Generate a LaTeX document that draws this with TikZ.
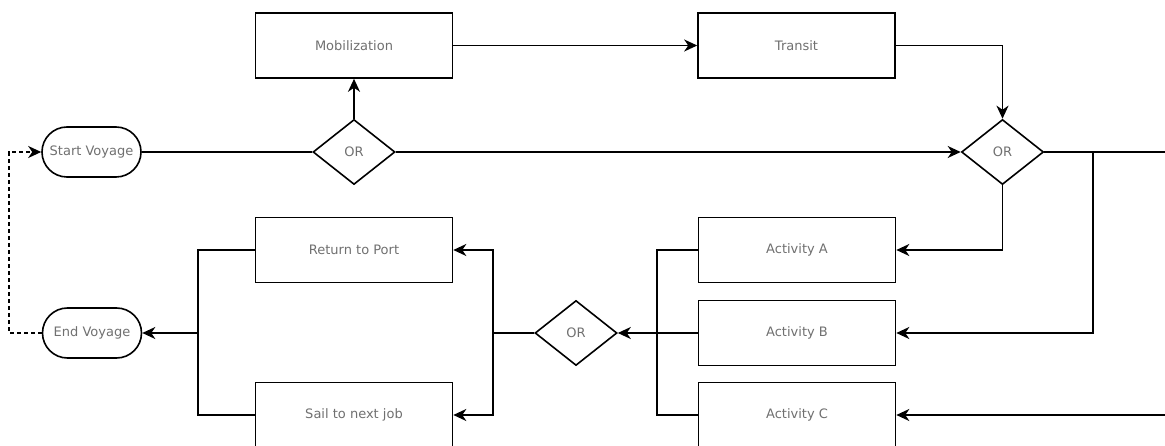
\documentclass[tikz,border=0pt]{standalone}
\usepackage{fontspec}
\setmainfont{DejaVu Sans}
\usetikzlibrary{shapes.geometric,arrows.meta}
\definecolor{labelgray}{HTML}{707070}
\begin{document}
\begin{tikzpicture}[x=1pt,y=-1pt,
  base/.style={draw=black, line width=1.6pt, fill=white, inner sep=0pt,
    text=labelgray, font=\fontsize{13}{15}\selectfont},
  stepbox/.style={base, rectangle, minimum width=197pt, minimum height=65pt},
  gate/.style={base, diamond, minimum width=82pt, minimum height=65pt},
  terminal/.style={base, rectangle, rounded corners=25pt, minimum width=99pt, minimum height=50pt},
  link/.style={line width=1.6pt, draw=black},
  arr/.style={link, -{Stealth[length=13pt,width=12pt,inset=4pt]}}]
\useasboundingbox (0,0) rectangle (1165,446);
\clip (0,0) rectangle (1165,446);

% terminals
\node[terminal] (sv) at (91.5,152) {Start Voyage};
\node[terminal] (ev) at (92,333) {End Voyage};

% top row
\node[stepbox] (mob) at (354,45.5) {Mobilization};
\node[stepbox] (tr) at (796.5,45.5) {Transit};
\node[gate] (or1) at (354,152) {OR};
\node[gate] (or2) at (1002.5,152) {OR};

% activities
\node[stepbox] (actA) at (797,250) {Activity A};
\node[stepbox] (actB) at (797,333) {Activity B};
\node[stepbox] (actC) at (797,415) {Activity C};
\node[gate] (or3) at (576,333) {OR};

% outcomes
\node[stepbox] (ret) at (354,250) {Return to Port};
\node[stepbox] (sail) at (354,415) {Sail to next job};

% junction points
\coordinate (jB) at (1093,152);
\coordinate (offright) at (1180,415);
\coordinate (jAct) at (657,333);
\coordinate (jOut) at (493,333);
\coordinate (jEnd) at (198,333);
\coordinate (jLoop) at (9,242);

% connectors
\draw[link] (sv.east) -- (or1.west);
\draw[arr] (or1.north) -- (mob.south);
\draw[arr] (mob.east) -- (tr.west);
\draw[arr] (tr.east) -| (or2.north);
\draw[arr] (or1.east) -- (or2.west);
\draw[arr] (or2.south) |- (actA.east);
\draw[arr] (or2.east) -| (offright) -- (actC.east);
\draw[arr] (jB) |- (actB.east);
\draw[link] (actA.west) -| (jAct) |- (actC.west);
\draw[arr] (actB.west) -- (or3.east);
\draw[link] (or3.west) -- (jOut);
\draw[arr] (jOut) |- (ret.east);
\draw[arr] (jOut) |- (sail.east);
\draw[link] (ret.west) -| (jEnd) |- (sail.west);
\draw[arr] (jEnd) -- (ev.east);
\draw[arr, dash pattern=on 4pt off 3pt] (ev.west) -| (jLoop) |- (sv.west);
\end{tikzpicture}
\end{document}
